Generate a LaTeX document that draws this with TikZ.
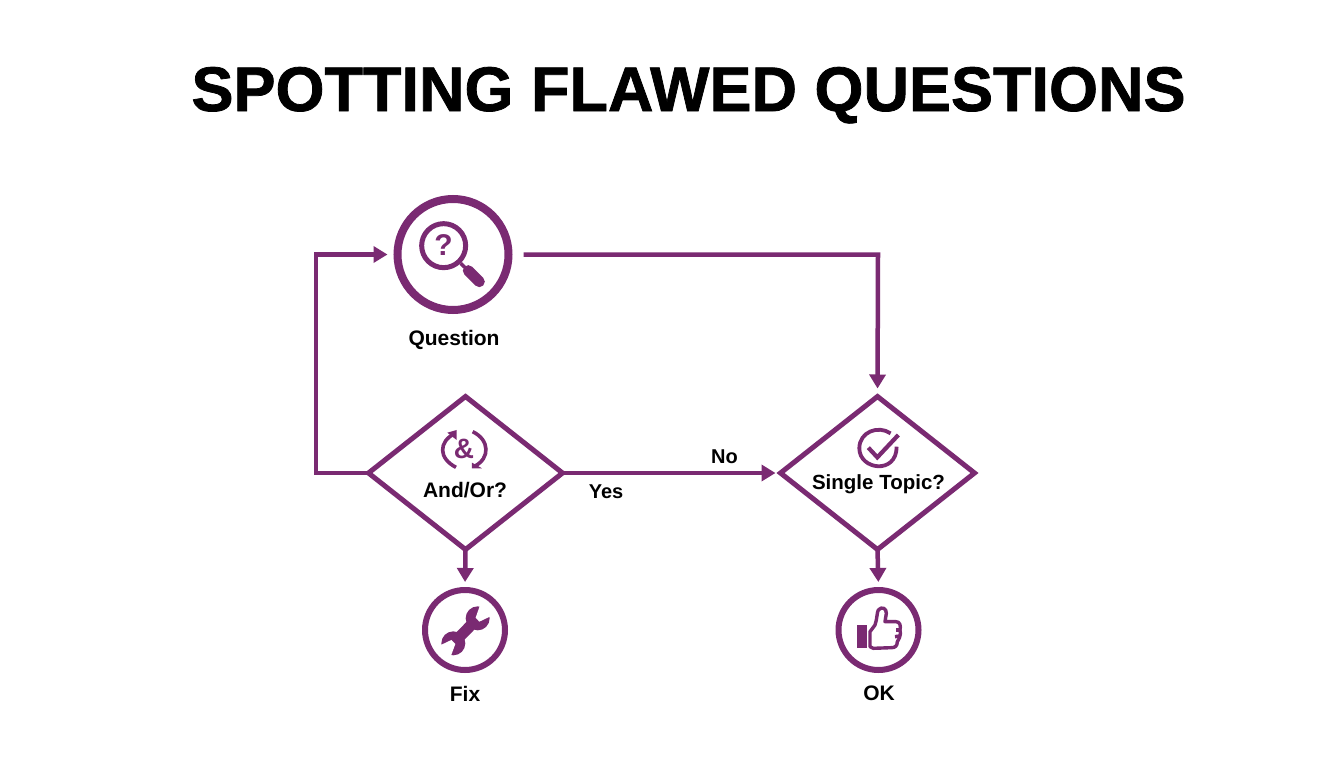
\documentclass[tikz,border=0pt]{standalone}
\usepackage{fontspec}
\setmainfont{Liberation Sans}
\newfontfamily\titlefont[BoldFeatures={FakeBold=1.2}]{Liberation Sans}
\usetikzlibrary{shapes.geometric,arrows.meta}
\definecolor{plum}{HTML}{7A2A72}
\tikzset{
 x=1pt,y=-1pt,
 ring/.style={circle,draw=plum,inner sep=0pt,fill=white},
 bigring/.style={ring,line width=8pt,minimum size=111pt},
 smallring/.style={ring,line width=6pt,minimum size=80pt},
 decision/.style={diamond,draw=plum,line width=5pt,inner sep=0pt,outer sep=0pt,aspect=1.27,minimum width=194pt,minimum height=153pt,fill=white},
 flow/.style={draw=plum,line width=4.5pt,-{Triangle[length=14pt,width=16pt]}},
 label/.style={font=\bfseries\fontsize{21}{24}\selectfont,text=black,inner sep=0pt},
 edgelabel/.style={font=\bfseries\fontsize{20}{24}\selectfont,text=black,inner sep=0pt},
 iconline/.style={draw=plum,line cap=round,line join=round}
}
\begin{document}
\begin{tikzpicture}
\useasboundingbox[fill=white] (0,0) rectangle (1344,768);
\node[font=\titlefont\bfseries\fontsize{63}{80}\selectfont,text=black,inner sep=0pt,anchor=base] (title) at (688.5,111) {SPOTTING FLAWED QUESTIONS};
\node[bigring] (q) at (453,254.5) {};
\node[decision] (d1) at (465.5,473) {};
\node[decision] (d2) at (877.5,473) {};
\node[smallring] (fix) at (465,630) {};
\node[smallring] (ok) at (878.5,630) {};
\node[label] (lq) at (454,339.5) {Question};
\node[label] (la) at (465,490) {And/Or?};
\node[label,font=\bfseries\fontsize{20.5}{24}\selectfont] (ls) at (878.5,484.5) {Single Topic?};
\node[label] (lf) at (465,693.5) {Fix};
\node[label] (lo) at (879,693.5) {OK};
\node[edgelabel] (yes) at (606,491.5) {Yes};
\node[edgelabel] (no) at (724.5,456.5) {No};
\coordinate (bl) at (316,473);
\coordinate (tl) at (316,254.5);
\coordinate (tr) at (878,254.5);
% connectors
\draw[flow,shorten >=6pt,line join=miter] (d1.west) -- (bl) -- (tl) -- (q.west);
\draw[flow,shorten <=11pt,shorten >=8pt] (q.east) -- (tr) -- (d2.north);
\draw[flow,shorten >=5pt] (d1.east) -- (d2.west);
\draw[flow,shorten >=5pt] (d1.south) -- (fix.north);
\draw[flow,shorten >=5pt] (d2.south) -- (ok.north);
% magnifier
\begin{scope}[shift={(300,180)},x=0.3333pt,y=-0.3333pt]
 \draw[plum,line width=5pt] (431,197) circle (66);
 \draw[plum,line width=3.5pt] (482,250) -- (505,272);
 \draw[plum,line width=11pt,line cap=round] (505,272) -- (538,305);
 \node[font=\bfseries\fontsize{30}{30}\selectfont,text=plum,inner sep=0pt] (qm) at (431,195) {?};
\end{scope}
% ampersand
\node[font=\bfseries\fontsize{28}{28}\selectfont,text=plum,inner sep=0pt] (amp) at (464,449) {\&};
\begin{scope}[shift={(360,390)},x=0.3333pt,y=-0.3333pt]
 \draw[plum,line width=3.6pt] (285,130) .. controls (235,155) and (235,205) .. (288,232);
 \draw[plum,line width=3.6pt] (338,125) .. controls (390,150) and (390,205) .. (345,228);
 \fill[plum] (262,128) -- (290,120) -- (290,150) -- cycle;
 \fill[plum] (336,218) -- (366,235) -- (336,235) -- cycle;
\end{scope}
% check
\begin{scope}[shift={(700,380)},x=0.3333pt,y=-0.3333pt]
 \draw[plum,line width=3.8pt] (572,160) .. controls (535,135) and (478,155) .. (478,205) .. controls (478,270) and (590,285) .. (590,200);
 \draw[iconline,line width=4.2pt,line cap=butt,line join=miter] (505,203) -- (532,232) -- (595,165);
\end{scope}
% wrench
\begin{scope}[shift={(410,550)},x=0.3333pt,y=-0.3333pt]
 \draw[plum,line width=11pt] (130,280) -- (203,205);
 \fill[plum] (203,205) circle (36);
 \fill[plum] (130,280) circle (36);
 \fill[white] (197,203) -- (212,160) -- (250,195) -- (208,215) -- cycle;
 \fill[white] (136,282) -- (120,325) -- (82,290) -- (124,270) -- cycle;
\end{scope}
% thumb
\begin{scope}[shift={(820,550)},x=0.3333pt,y=-0.3333pt]
 \fill[plum] (110,225) rectangle (140,295);
 \draw[iconline,line width=3.4pt] (150,290) -- (150,245) -- (165,225) .. controls (172,205) and (170,190) .. (175,180) .. controls (185,168) and (200,175) .. (199,190) -- (195,215) -- (228,215) .. controls (240,215) and (243,228) .. (240,240) .. controls (245,255) and (235,270) .. (232,275) .. controls (232,288) and (225,293) .. (215,293) -- (160,295) -- cycle;
 \draw[plum,line width=3.5pt] (228,240) -- (243,240);
 \draw[plum,line width=3.5pt] (225,260) -- (240,258);
\end{scope}
\end{tikzpicture}
\end{document}
